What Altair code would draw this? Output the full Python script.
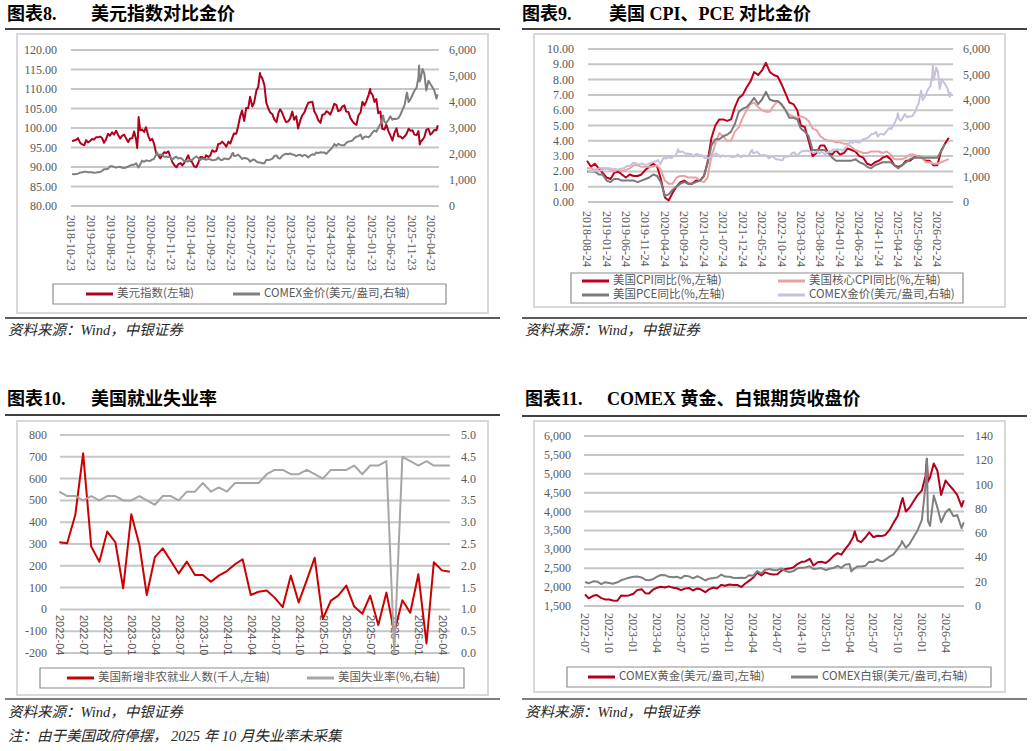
import altair as alt
import pandas as pd

# ---------------------------------------------------------------- data
# US dollar index, semi-monthly (1st / 15th) starting 2018-11-01
dxy = [96.6, 96.8, 97.0, 97.4,
       96.2, 95.8, 95.6, 96.9, 96.3, 96.6, 97.2, 97.0, 97.6, 97.6, 97.8, 97.5,
       96.2, 97.0, 98.5, 98.0, 98.9, 98.3, 99.3, 98.3, 97.3, 98.0, 98.3, 97.4,
       96.4, 97.3, 97.4, 99.1, 97.0, 98.0, 99.4, 99.6, 99.0, 100.2, 98.0, 96.8,
       97.2, 96.0, 93.4, 93.1, 92.2, 93.0, 93.8, 93.6, 94.0, 92.7, 91.3, 90.5,
       89.9, 90.7, 91.0, 90.4, 91.0, 91.8, 93.0, 91.6, 91.2, 90.2, 90.0, 90.9,
       92.5, 92.6, 92.0, 93.0, 92.6, 92.9, 94.3, 93.9, 94.1, 95.9, 96.0, 96.5,
       95.9, 95.2, 96.5, 96.0, 97.4, 98.6, 98.5, 100.4, 103.0, 104.5, 101.8, 105.1,
       105.1, 108.0, 105.5, 106.5, 109.6, 110.5, 113.5, 112.8, 111.0, 106.5, 105.0, 104.0,
       103.5, 102.2, 101.5, 103.8, 104.8, 104.0, 102.5, 101.5, 101.7, 102.4, 104.2, 102.1,
       103.0, 99.9, 102.0, 103.2, 104.0, 105.3, 106.5, 106.6, 106.7, 104.3, 103.3, 102.0,
       101.3, 103.4, 103.5, 104.3, 104.0, 103.4, 104.8, 106.2, 105.9, 104.3, 104.6, 105.5,
       105.8, 104.2, 104.1, 102.6, 101.7, 101.1, 100.8, 103.2, 104.0, 106.7, 105.8, 106.9,
       108.5, 109.2, 108.4, 106.7, 107.4, 103.8, 104.2, 99.8, 99.6, 100.9, 99.2, 98.1,
       96.8, 98.6, 99.9, 97.8, 97.8, 97.3, 97.8, 98.4, 99.8, 99.3, 99.4, 98.3,
       98.2, 99.2, 96.5, 97.0, 97.7, 99.5, 99.8, 98.3, 98.8, 99.5, 99.4]
dxy_extra_dates = ["2020-03-09", "2020-03-20", "2022-09-28", "2025-01-13", "2026-01-25", "2026-06-10"]
dxy_extra = [94.9, 102.8, 114.1, 110.0, 95.8, 100.7]

# COMEX gold (USD/oz), semi-monthly starting 2018-09-01
gold = [1200, 1198, 1192, 1228, 1233, 1218, 1228, 1245,
        1284, 1292, 1320, 1322, 1300, 1302, 1295, 1277, 1285, 1297, 1310, 1344,
        1410, 1413, 1433, 1525, 1530, 1505, 1475, 1495, 1510, 1468, 1465, 1480,
        1520, 1555, 1585, 1585, 1640, 1520, 1595, 1745, 1700, 1755, 1740, 1730,
        1790, 1810, 1990, 1950, 1980, 1965, 1890, 1905, 1880, 1885, 1780, 1855,
        1895, 1830, 1850, 1795, 1725, 1730, 1715, 1765, 1770, 1845, 1905, 1855,
        1770, 1828, 1815, 1780, 1815, 1795, 1760, 1768, 1785, 1865, 1780, 1765,
        1830, 1818, 1798, 1855, 2010, 1925, 1935, 1975, 1895, 1810, 1850, 1835,
        1805, 1705, 1770, 1790, 1710, 1675, 1670, 1645, 1640, 1775, 1770, 1780,
        1825, 1920, 1945, 1840, 1830, 1925, 1985, 2010, 1990, 2020, 1980, 1970,
        1920, 1960, 1975, 1910, 1965, 1935, 1865, 1940, 1990, 1965, 2060, 2035,
        2070, 2055, 2055, 2005, 2095, 2165, 2255, 2380, 2310, 2390, 2350, 2335,
        2340, 2430, 2480, 2490, 2525, 2610, 2670, 2680, 2750, 2570, 2660, 2670,
        2640, 2715, 2835, 2900, 2860, 3000, 3150, 3330, 3240, 3190, 3320, 3450,
        3320, 3360, 3350, 3380, 3520, 3700, 3880, 4250, 4000, 4100, 4280, 4430,
        4560, 4950, 4900, 5270, 5080, 4440, 4820, 4700, 4570, 4440, 4130]
gold_extra_dates = ["2020-03-19", "2020-08-06", "2022-03-08", "2025-04-21", "2025-10-20",
                    "2026-01-20", "2026-01-24", "2026-06-09"]
gold_extra = [1480, 2070, 2045, 3480, 4360, 5400, 4790, 4300]

# COMEX silver (USD/oz), semi-monthly starting 2022-07-01
silver = [19.8, 18.7, 20.3, 20.2, 18.0, 19.6, 19.0, 18.3, 19.5, 21.2, 22.3, 23.3,
          24.0, 24.3, 23.5, 21.7, 21.2, 22.0, 24.2, 25.5, 25.4, 24.0, 23.6, 24.1,
          22.8, 25.0, 24.4, 22.8, 24.5, 23.2, 21.0, 22.5, 23.0, 23.5, 25.8, 24.2,
          24.1, 23.2, 23.0, 23.3, 23.0, 25.3, 25.0, 28.7, 26.8, 29.8, 30.4, 29.6,
          29.5, 31.0, 28.8, 28.0, 28.9, 31.0, 31.5, 31.8, 32.7, 30.5, 30.8, 31.2,
          29.5, 30.7, 31.5, 33.0, 31.4, 34.0, 34.5, 30.0, 32.6, 32.6, 33.2, 36.5,
          36.2, 38.5, 36.8, 38.2, 40.8, 42.5, 47.0, 51.5, 48.0, 51.0, 57.0, 62.0,
          71.0, 100.0, 66.0, 91.0, 81.0, 69.0, 77.0, 80.0, 74.0, 75.0, 64.0]
silver_extra_dates = ["2025-04-08", "2025-10-17", "2026-01-20", "2026-01-24", "2026-06-09"]
silver_extra = [28.5, 53.5, 121.0, 70.0, 69.0]

# US inflation, monthly from 2018-08 (% y/y)
cpi = [2.7, 2.3, 2.5, 2.2, 1.9,
       1.6, 1.5, 1.9, 2.0, 1.8, 1.6, 1.8, 1.7, 1.7, 1.8, 2.1, 2.3,
       2.5, 2.3, 1.5, 0.3, 0.1, 0.6, 1.0, 1.3, 1.4, 1.2, 1.2, 1.4,
       1.4, 1.7, 2.6, 4.2, 5.0, 5.4, 5.4, 5.3, 5.4, 6.2, 6.8, 7.0,
       7.5, 7.9, 8.5, 8.3, 8.6, 9.1, 8.5, 8.3, 8.2, 7.7, 7.1, 6.5,
       6.4, 6.0, 5.0, 4.9, 4.0, 3.0, 3.2, 3.7, 3.7, 3.2, 3.1, 3.4,
       3.1, 3.2, 3.5, 3.4, 3.3, 3.0, 2.9, 2.5, 2.4, 2.6, 2.7, 2.9,
       3.0, 2.8, 2.4, 2.3, 2.4, 2.7, 2.7, 2.9, 3.0, 2.9, 2.7, 2.7,
       2.4, 2.4, 3.3, 3.8, 4.2]
core_cpi = [2.2, 2.2, 2.1, 2.2, 2.2,
            2.2, 2.1, 2.0, 2.1, 2.0, 2.1, 2.2, 2.4, 2.4, 2.3, 2.3, 2.3,
            2.3, 2.4, 2.1, 1.4, 1.2, 1.2, 1.6, 1.7, 1.7, 1.6, 1.6, 1.6,
            1.4, 1.3, 1.6, 3.0, 3.8, 4.5, 4.3, 4.0, 4.0, 4.6, 4.9, 5.5,
            6.0, 6.4, 6.5, 6.2, 6.0, 5.9, 5.9, 6.3, 6.6, 6.3, 6.0, 5.7,
            5.6, 5.5, 5.6, 5.5, 5.3, 4.8, 4.7, 4.3, 4.1, 4.0, 4.0, 3.9,
            3.9, 3.8, 3.8, 3.6, 3.4, 3.3, 3.2, 3.2, 3.3, 3.3, 3.3, 3.2,
            3.3, 3.1, 2.8, 2.8, 2.8, 2.9, 3.1, 3.1, 3.0, 2.9, 2.6, 2.6,
            2.5, 2.5, 2.6, 2.7, 2.8]
pce = [2.0, 2.0, 2.0, 1.8, 1.8,
       1.4, 1.3, 1.5, 1.5, 1.4, 1.4, 1.4, 1.4, 1.3, 1.4, 1.5, 1.6,
       1.8, 1.7, 1.3, 0.4, 0.5, 0.8, 1.0, 1.2, 1.3, 1.2, 1.2, 1.3,
       1.4, 1.7, 2.5, 3.7, 4.1, 4.1, 4.3, 4.4, 4.6, 5.1, 5.9, 6.1,
       6.2, 6.5, 6.8, 6.4, 6.7, 7.2, 6.7, 6.6, 6.6, 6.4, 6.0, 5.5,
       5.5, 5.4, 4.8, 4.6, 4.3, 3.4, 3.4, 3.4, 3.4, 3.2, 2.9, 2.7,
       2.7, 2.7, 2.7, 2.7, 2.8, 2.6, 2.5, 2.3, 2.2, 2.4, 2.5, 2.6,
       2.6, 2.6, 2.4, 2.2, 2.4, 2.6, 2.8, 2.9, 2.9, 2.9, 2.9, 2.9,
       2.9, 2.9, 3.3, 3.8]

# US labour market, monthly from 2022-04
nfp = [308, 303, 433, 716, 288, 219, 357, 308, 97, 436, 295, 66, 240, 280, 222, 165,
       219, 158, 158, 127, 155, 176, 207, 230, 66, 81, 87, 54, 10, 155, 32, 134,
       237, -44, 40, 63, 109, 13, -20, 63, -72, 77, -105, 42, -15, 161, -156, 216,
       179, 173]
unemp = [3.7, 3.6, 3.6, 3.5, 3.6, 3.5, 3.6, 3.6, 3.5, 3.5, 3.6, 3.5, 3.4, 3.6, 3.6, 3.5,
         3.7, 3.7, 3.9, 3.7, 3.8, 3.7, 3.9, 3.9, 3.9, 3.9, 4.1, 4.2, 4.2, 4.1, 4.1, 4.2,
         4.1, 4.0, 4.2, 4.2, 4.2, 4.3, 4.1, 4.3, 4.3, 4.4, 0.0, 4.5, 4.4, 4.3, 4.4, 4.3,
         4.3, 4.3]

# tick labels
p8_left = ["120.00", "115.00", "110.00", "105.00", "100.00", "95.00", "90.00", "85.00", "80.00"]
p8_right = ["6,000", "5,000", "4,000", "3,000", "2,000", "1,000", "0"]
p8_dates = ["2018-10-23", "2019-03-23", "2019-08-23", "2020-01-23", "2020-06-23", "2020-11-23",
            "2021-04-23", "2021-09-23", "2022-02-23", "2022-07-23", "2022-12-23", "2023-05-23",
            "2023-10-23", "2024-03-23", "2024-08-23", "2025-01-23", "2025-06-23", "2025-11-23",
            "2026-04-23"]
p9_left = ["10.00", "9.00", "8.00", "7.00", "6.00", "5.00", "4.00", "3.00", "2.00", "1.00", "0.00"]
p9_right = ["6,000", "5,000", "4,000", "3,000", "2,000", "1,000", "0"]
p9_dates = ["2018-08-24", "2019-01-24", "2019-06-24", "2019-11-24", "2020-04-24", "2020-09-24",
            "2021-02-24", "2021-07-24", "2021-12-24", "2022-05-24", "2022-10-24", "2023-03-24",
            "2023-08-24", "2024-01-24", "2024-06-24", "2024-11-24", "2025-04-24", "2025-09-24",
            "2026-02-24"]
p10_left = ["800", "700", "600", "500", "400", "300", "200", "100", "0", "-100", "-200"]
p10_right = ["5.0", "4.5", "4.0", "3.5", "3.0", "2.5", "2.0", "1.5", "1.0", "0.5", "0.0"]
p10_dates = ["2022-04", "2022-07", "2022-10", "2023-01", "2023-04", "2023-07", "2023-10",
             "2024-01", "2024-04", "2024-07", "2024-10", "2025-01", "2025-04", "2025-07",
             "2025-10", "2026-01", "2026-04"]
p11_left = ["6,000", "5,500", "5,000", "4,500", "4,000", "3,500", "3,000", "2,500", "2,000", "1,500"]
p11_right = ["140", "120", "100", "80", "60", "40", "20", "0"]
p11_dates = ["2022-07", "2022-10", "2023-01", "2023-04", "2023-07", "2023-10", "2024-01",
             "2024-04", "2024-07", "2024-10", "2025-01", "2025-04", "2025-07", "2025-10",
             "2026-01", "2026-04"]


# ---------------------------------------------------------------- helpers
def ms(d):
    return int(pd.Timestamp(d).value // 10**6)


def frame(dates, values):
    return pd.DataFrame({"t": [ms(d) for d in dates], "v": values})


def semi_monthly(start, values, extra_dates, extra_values):
    dates = list(pd.date_range(start, periods=len(values), freq="SMS"))
    df = pd.concat([frame(dates, values), frame(extra_dates, extra_values)])
    return df.sort_values("t").reset_index(drop=True)


dxy_df = semi_monthly("2018-11-01", dxy, dxy_extra_dates, dxy_extra)
gold_df = semi_monthly("2018-09-01", gold, gold_extra_dates, gold_extra)
silver_df = semi_monthly("2022-07-01", silver, silver_extra_dates, silver_extra)
months18 = pd.date_range("2018-08-24", periods=len(cpi), freq=pd.DateOffset(months=1))
cpi_df = frame(months18, cpi)
core_df = frame(months18, core_cpi)
pce_df = frame(months18[:len(pce)], pce)
months22 = pd.date_range("2022-04-01", periods=len(nfp), freq="MS")
nfp_df = frame(months22, nfp)
unemp_df = frame(months22, unemp)

NUM_FONT = "Liberation Serif"
SANS = "Liberation Sans"
CJK = "Noto Sans CJK SC"
MIXED = "Liberation Serif, Noto Sans CJK SC"
AXIS_C = "#595959"
GRID_C = "#c6c6c6"

one = pd.DataFrame({"k": [0]})
layers = []

# panel geometry: x domain / pixel range, left and right y domain / pixel range
P8 = dict(x0="2018-10-23", x1="2026-06-20", px=[71, 439],
          L=([80, 120], [206, 50]), R=([0, 6000], [206, 50]),
          gx=(71, 439), lx=57, rx=449, xly=215, xfont=NUM_FONT, xsize=12)
P9 = dict(x0="2018-08-24", x1="2026-06-24", px=[587, 952.7],
          L=([0, 10], [202, 49]), R=([0, 6000], [202, 49]),
          gx=(588, 953), lx=574, rx=963, xly=211, xfont=NUM_FONT, xsize=12)
P10 = dict(x0="2022-04-01", x1="2026-05-01", px=[59.3, 449.8],
           L=([-200, 800], [653, 435]), R=([0, 5], [653, 435]),
           gx=(60, 450), lx=47, rx=461, xly=615, xfont=SANS, xsize=11)
P11 = dict(x0="2022-07-01", x1="2026-06-10", px=[585, 964],
           L=([1500, 6000], [606, 436]), R=([0, 140], [606, 436]),
           gx=(584, 964), lx=571, rx=975, xly=613, xfont=NUM_FONT, xsize=12)


def xsc(p):
    return alt.Scale(domain=[ms(p["x0"]), ms(p["x1"])], range=p["px"], nice=False, zero=False)


def ysc(p, side):
    dom, rng = p[side]
    return alt.Scale(domain=dom, range=rng, nice=False, zero=False)


def series(p, df, side, color, width=2.0):
    d = df[(df.t >= ms(p["x0"])) & (df.t <= ms(p["x1"]))]
    return alt.Chart(d).mark_line(color=color, strokeWidth=width, strokeJoin="round").encode(
        x=alt.X("t:Q", scale=xsc(p), axis=None),
        y=alt.Y("v:Q", scale=ysc(p, side), axis=None),
    )


def axes(p, left, right, dates):
    out = []
    lv = pd.DataFrame({"v": [float(s.replace(",", "")) for s in left], "lab": left})
    rv = pd.DataFrame({"v": [float(s.replace(",", "")) for s in right], "lab": right})
    out.append(alt.Chart(lv).mark_rule(color=GRID_C, strokeWidth=2).encode(
        y=alt.Y("v:Q", scale=ysc(p, "L"), axis=None),
        x=alt.value(p["gx"][0]), x2=alt.value(p["gx"][1])))
    out.append(alt.Chart(lv).mark_text(align="right", baseline="middle", font=NUM_FONT,
                                       fontSize=12, color=AXIS_C).encode(
        y=alt.Y("v:Q", scale=ysc(p, "L"), axis=None), x=alt.value(p["lx"]), text="lab:N"))
    out.append(alt.Chart(rv).mark_text(align="left", baseline="middle", font=NUM_FONT,
                                       fontSize=12, color=AXIS_C).encode(
        y=alt.Y("v:Q", scale=ysc(p, "R"), axis=None), x=alt.value(p["rx"]), text="lab:N"))
    xv = pd.DataFrame({"t": [ms(s) for s in dates], "lab": dates})
    out.append(alt.Chart(xv).mark_text(angle=90, align="left", baseline="middle", font=p["xfont"],
                                       fontSize=p["xsize"], color=AXIS_C).encode(
        x=alt.X("t:Q", scale=xsc(p), axis=None), y=alt.value(p["xly"]), text="lab:N"))
    return out


def text(s, x, y, size, font=MIXED, color="#000000", weight="normal", style="normal"):
    return alt.Chart(one).mark_text(text=s, align="left", baseline="middle", font=font,
                                    fontSize=size, fontWeight=weight, fontStyle=style,
                                    color=color).encode(x=alt.value(x), y=alt.value(y))


def hrule(x0, x1, y, color, width):
    return alt.Chart(one).mark_rule(color=color, strokeWidth=width).encode(
        x=alt.value(x0), x2=alt.value(x1), y=alt.value(y))


def box(x0, x1, y0, y1, color, width):
    return alt.Chart(one).mark_rect(fill="#ffffff", fillOpacity=0, stroke=color,
                                    strokeWidth=width).encode(
        x=alt.value(x0), x2=alt.value(x1), y=alt.value(y0), y2=alt.value(y1))


def legend_item(label, color, x0, y):
    return [hrule(x0, x0 + 27, y, color, 3),
            text(label, x0 + 31, y, 11.5, font=CJK, color=AXIS_C)]


def header(num, title, x, xt, y, rule_y, rx0, rx1):
    return [text(num, x, y, 18, weight="bold"),
            text(title, xt, y, 18, weight="bold"),
            hrule(rx0, rx1, rule_y, "#000000", 1.5)]


# ---------------------------------------------------------------- 图表8
RED8 = "#b0001e"
GRAY8 = "#7f7f7f"
layers += header("图表8.", "美元指数对比金价", 7, 91, 15, 29, 5, 500)
layers.append(box(17, 488, 34, 313, "#d9d9d9", 2))
layers += axes(P8, p8_left, p8_right, p8_dates)
layers.append(series(P8, dxy_df, "L", RED8))
layers.append(series(P8, gold_df, "R", GRAY8))
layers.append(box(53, 446, 284, 304, "#8c8c8c", 1.2))
layers += legend_item("美元指数(左轴)", RED8, 86, 294)
layers += legend_item("COMEX金价(美元/盎司,右轴)", GRAY8, 233, 294)
layers.append(hrule(5, 500, 318, "#262626", 1.5))
layers.append(text("资料来源：Wind，中银证券", 8, 331, 14.5, color="#262626", style="italic"))

# ---------------------------------------------------------------- 图表9
C_CPI = "#c0001a"
C_CORE = "#e8a4a4"
C_PCE = "#7a7a7a"
C_GOLD9 = "#c9c0dc"
layers += header("图表9.", "美国 CPI、PCE 对比金价", 522, 609, 15, 29, 522, 1027)
layers.append(box(534, 1005, 34, 307, "#d9d9d9", 2))
layers += axes(P9, p9_left, p9_right, p9_dates)
layers.append(series(P9, cpi_df, "L", C_CPI))
layers.append(series(P9, core_df, "L", C_CORE))
layers.append(series(P9, pce_df, "L", C_PCE))
layers.append(series(P9, gold_df, "R", C_GOLD9))
layers.append(box(571, 963, 273, 303, "#8c8c8c", 1.2))
layers += legend_item("美国CPI同比(%,左轴)", C_CPI, 582, 281)
layers += legend_item("美国核心CPI同比(%,左轴)", C_CORE, 778, 281)
layers += legend_item("美国PCE同比(%,左轴)", C_PCE, 582, 295)
layers += legend_item("COMEX金价(美元/盎司,右轴)", C_GOLD9, 778, 295)
layers.append(hrule(522, 1027, 318, "#262626", 1.5))
layers.append(text("资料来源：Wind，中银证券", 525, 331, 14.5, color="#262626", style="italic"))

# ---------------------------------------------------------------- 图表10
C_NFP = "#cc0000"
C_UNEMP = "#a6a6a6"
layers += header("图表10.", "美国就业失业率", 7, 91, 400, 415, 5, 500)
layers.append(box(17, 488, 421, 695, "#d9d9d9", 2))
layers += axes(P10, p10_left, p10_right, p10_dates)
layers.append(series(P10, nfp_df, "L", C_NFP))
layers.append(series(P10, unemp_df, "R", C_UNEMP))
layers.append(box(40, 464, 668, 688, "#8c8c8c", 1.2))
layers += legend_item("美国新增非农就业人数(千人,左轴)", C_NFP, 67, 678)
layers += legend_item("美国失业率(%,右轴)", C_UNEMP, 307, 678)
layers.append(hrule(5, 500, 699, "#7f7f7f", 2))
layers.append(text("资料来源：Wind，中银证券", 8, 713, 14.5, color="#262626", style="italic"))
layers.append(text("注：由于美国政府停摆， 2025 年 10 月失业率未采集", 8, 737, 14.5,
                   color="#262626", style="italic"))

# ---------------------------------------------------------------- 图表11
RED11 = "#b0001e"
GRAY11 = "#808080"
layers += header("图表11.", "COMEX 黄金、白银期货收盘价", 525, 607, 400, 416, 522, 1027)
layers.append(box(534, 1005, 421, 692, "#d9d9d9", 2))
layers += axes(P11, p11_left, p11_right, p11_dates)
layers.append(series(P11, gold_df, "L", RED11))
layers.append(series(P11, silver_df, "R", GRAY11))
layers.append(box(567, 991, 667, 687, "#8c8c8c", 1.2))
layers += legend_item("COMEX黄金(美元/盎司,左轴)", RED11, 588, 677)
layers += legend_item("COMEX白银(美元/盎司,右轴)", GRAY11, 791, 677)
layers.append(hrule(522, 1027, 699, "#7f7f7f", 2))
layers.append(text("资料来源：Wind，中银证券", 525, 713, 14.5, color="#262626", style="italic"))

chart = (
    alt.layer(*layers)
    .resolve_scale(x="independent", y="independent")
    .properties(width=1033, height=751, padding=0, background="#ffffff",
                autosize=alt.AutoSizeParams(type="none"))
    .configure_view(stroke=None)
)

chart.save("out.html", embed_options={"renderer": "svg", "actions": False})
